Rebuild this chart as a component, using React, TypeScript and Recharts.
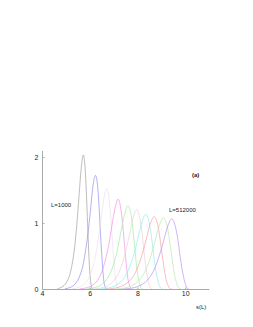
import React from "react";
import { LineChart, Line, XAxis, YAxis } from "recharts";

// Ten distributions, L = 1000 ... 512000 (doubling)
const labels = ["1000", "2000", "4000", "8000", "16000", "32000", "64000", "128000", "256000", "512000"];

const xs1 = [4.63, 4.81, 4.99, 5.17, 5.26, 5.35, 5.44, 5.53, 5.62, 5.71, 5.80, 5.845, 5.89, 5.935, 5.98, 6.025, 6.07, 6.106];
const ys1 = [0.014, 0.037, 0.10, 0.26, 0.42, 0.65, 0.99, 1.41, 1.83, 2.04, 1.76, 1.41, 1.00, 0.59, 0.28, 0.10, 0.025, 0.006];

const xs2 = [4.94, 5.16, 5.37, 5.58, 5.69, 5.79, 5.90, 6.01, 6.11, 6.22, 6.33, 6.38, 6.43, 6.49, 6.54, 6.59, 6.65, 6.69];
const ys2 = [0.012, 0.031, 0.085, 0.223, 0.356, 0.555, 0.839, 1.197, 1.555, 1.73, 1.491, 1.199, 0.844, 0.50, 0.239, 0.086, 0.021, 0.005];

const xs3 = [5.25, 5.49, 5.73, 5.97, 6.09, 6.21, 6.33, 6.45, 6.57, 6.69, 6.81, 6.87, 6.93, 6.99, 7.05, 7.11, 7.17, 7.22];
const ys3 = [0.010, 0.028, 0.075, 0.197, 0.315, 0.491, 0.742, 1.059, 1.375, 1.53, 1.319, 1.06, 0.747, 0.442, 0.211, 0.076, 0.019, 0.005];

const xs4 = [5.56, 5.83, 6.10, 6.37, 6.50, 6.63, 6.77, 6.90, 7.04, 7.17, 7.30, 7.37, 7.44, 7.51, 7.57, 7.64, 7.71, 7.76];
const ys4 = [0.009, 0.025, 0.067, 0.177, 0.282, 0.44, 0.664, 0.948, 1.232, 1.37, 1.181, 0.949, 0.669, 0.396, 0.189, 0.068, 0.017, 0.004];

const xs5 = [5.84, 6.13, 6.42, 6.71, 6.86, 7.00, 7.15, 7.29, 7.44, 7.58, 7.73, 7.80, 7.87, 7.94, 8.02, 8.09, 8.16, 8.22];
const ys5 = [0.009, 0.023, 0.062, 0.164, 0.262, 0.408, 0.616, 0.879, 1.142, 1.27, 1.095, 0.88, 0.62, 0.367, 0.175, 0.063, 0.016, 0.004];

const xs6 = [6.13, 6.43, 6.73, 7.04, 7.19, 7.34, 7.49, 7.65, 7.80, 7.95, 8.10, 8.18, 8.25, 8.33, 8.41, 8.48, 8.56, 8.62];
const ys6 = [0.008, 0.022, 0.059, 0.156, 0.249, 0.388, 0.587, 0.837, 1.088, 1.21, 1.043, 0.839, 0.59, 0.35, 0.167, 0.06, 0.015, 0.004];

const xs7 = [6.39, 6.72, 7.04, 7.36, 7.52, 7.68, 7.85, 8.01, 8.17, 8.33, 8.49, 8.57, 8.65, 8.73, 8.82, 8.90, 8.98, 9.04];
const ys7 = [0.008, 0.021, 0.056, 0.147, 0.235, 0.366, 0.553, 0.789, 1.025, 1.14, 0.983, 0.79, 0.556, 0.329, 0.157, 0.056, 0.014, 0.003];

const xs8 = [6.68, 7.01, 7.34, 7.68, 7.85, 8.01, 8.18, 8.35, 8.51, 8.68, 8.85, 8.93, 9.01, 9.10, 9.18, 9.27, 9.35, 9.42];
const ys8 = [0.007, 0.02, 0.054, 0.142, 0.227, 0.353, 0.534, 0.761, 0.989, 1.10, 0.948, 0.762, 0.537, 0.318, 0.152, 0.054, 0.014, 0.003];

const xs9 = [7.04, 7.38, 7.71, 8.05, 8.22, 8.39, 8.56, 8.73, 8.90, 9.07, 9.24, 9.32, 9.41, 9.49, 9.58, 9.66, 9.75, 9.82];
const ys9 = [0.007, 0.02, 0.053, 0.14, 0.224, 0.348, 0.526, 0.751, 0.975, 1.085, 0.935, 0.752, 0.529, 0.314, 0.15, 0.054, 0.013, 0.003];

const xs10 = [7.36, 7.70, 8.04, 8.39, 8.56, 8.73, 8.90, 9.08, 9.25, 9.42, 9.59, 9.68, 9.76, 9.85, 9.94, 10.02, 10.08, 10.14];
const ys10 = [0.007, 0.019, 0.052, 0.138, 0.22, 0.343, 0.519, 0.74, 0.962, 1.07, 0.922, 0.742, 0.522, 0.309, 0.148, 0.053, 0.013, 0.003];

const xTicks = [4, 6, 8, 10];
const xTopTicks = [4, 5, 6, 7, 8, 9, 10, 11];
const yTicks = [0, 1, 2];
const yRightTicks = [0, 0.5, 1, 1.5, 2];

const allX = [xs1, xs2, xs3, xs4, xs5, xs6, xs7, xs8, xs9, xs10];
const allY = [ys1, ys2, ys3, ys4, ys5, ys6, ys7, ys8, ys9, ys10];

const colors = [
  "#a0a0a0",
  "#9090f0",
  "#ece0e8",
  "#f490e6",
  "#a0eca0",
  "#e6d2d6",
  "#90ecec",
  "#f8a0a0",
  "#bce8ae",
  "#bc92f4",
];

const series = allX.map((xs, i) => xs.map((x, j) => ({ x, y: allY[i][j] })));

const FONT = "'Liberation Sans', Arial, sans-serif";
const tickStyle = { fontSize: 7, fill: "#222", fontFamily: FONT };
const axisStroke = "#aaaaaa";

const textStyle: React.CSSProperties = {
  position: "absolute",
  fontFamily: FONT,
  fontSize: 6,
  lineHeight: "6px",
  color: "#222",
  whiteSpace: "nowrap",
};

export default function App() {
  return (
    <div style={{ position: "relative", width: 245, height: 319 }}>
      <LineChart
        width={245}
        height={319}
        margin={{ top: 143, right: 43.5, left: 0, bottom: 17.5 }}
      >
        <XAxis
          dataKey="x"
          type="number"
          domain={[4, 11]}
          ticks={xTicks}
          height={20}
          tickSize={-2}
          tickMargin={4}
          tick={tickStyle}
          stroke={axisStroke}
          allowDataOverflow
        />
        <XAxis
          xAxisId="top"
          orientation="top"
          dataKey="x"
          type="number"
          domain={[4, 11]}
          ticks={xTopTicks}
          height={0}
          tickSize={-2}
          tick={false}
          stroke={axisStroke}
        />
        <YAxis
          type="number"
          domain={[0, 2.1]}
          ticks={yTicks}
          width={34.5}
          tickSize={-2}
          tickMargin={6}
          tick={tickStyle}
          stroke={axisStroke}
          allowDataOverflow
        />
        <YAxis
          yAxisId="right"
          orientation="right"
          type="number"
          domain={[0, 2.1]}
          ticks={yRightTicks}
          width={0}
          tickSize={-2}
          tick={false}
          stroke={axisStroke}
        />
        {series.map((d, i) => (
          <Line
            key={labels[i]}
            name={"L=" + labels[i]}
            data={d}
            dataKey="y"
            type="monotone"
            stroke={colors[i]}
            strokeWidth={0.7}
            dot={false}
            activeDot={false}
            isAnimationActive={false}
          />
        ))}
      </LineChart>
      <span style={{ ...textStyle, left: 43, top: 194 }}>L=1000</span>
      <span style={{ ...textStyle, left: 161, top: 199 }}>L=512000</span>
      <span style={{ ...textStyle, left: 184, top: 164, fontWeight: "bold" }}>(a)</span>
      <span style={{ ...textStyle, left: 188, top: 296 }}>s(L)</span>
    </div>
  );
}
